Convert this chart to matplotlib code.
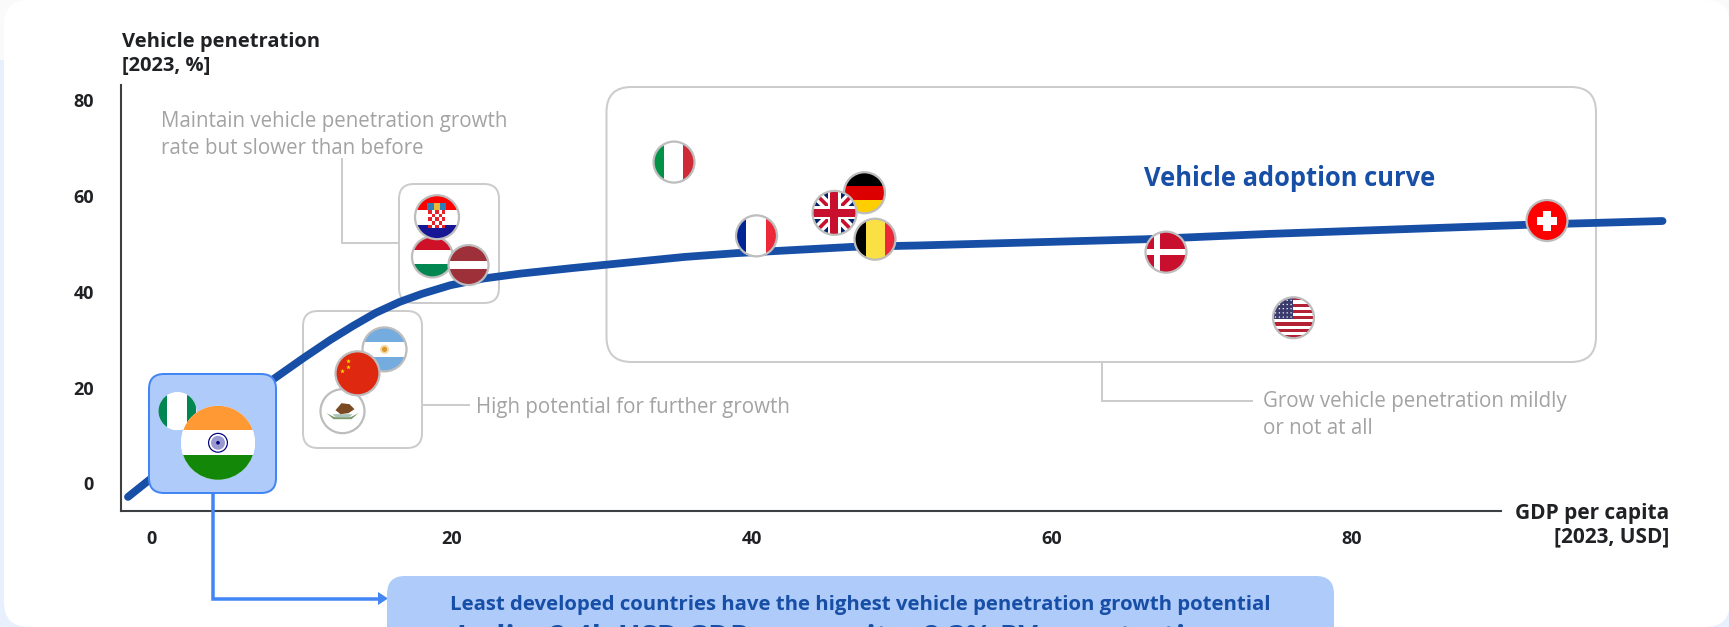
import matplotlib

matplotlib.use("Agg")
import matplotlib.pyplot as plt
import numpy as np
from matplotlib.patches import Circle, FancyBboxPatch, Polygon, Rectangle
from matplotlib.transforms import Affine2D

# adoption curve
curve_gdp = [-1.6, -0.2, 3.9, 8.1, 10.1, 11.9, 13.4, 14.9, 16.5, 18.0, 19.9, 22.1, 24.5, 28.1,
             35.5, 39.0, 46.7, 51.2, 66.3, 74.4, 91.6, 100.7]
curve_pen = [-2.8, 0.7, 11.2, 21.8, 26.2, 30.0, 32.9, 35.6, 37.9, 39.6, 41.4, 42.8, 43.8, 45.0,
             47.3, 48.1, 49.4, 49.7, 51.0, 52.1, 54.0, 54.8]

# countries, in drawing order
countries = ["NG", "IN", "MX", "AR", "CN", "HU", "HR", "LV", "IT", "FR", "DE", "GB",
             "BE", "DK", "US", "CH"]
gdp = [1.7, 4.4, 12.7, 15.5, 13.7, 18.7, 19.0, 21.1, 34.8, 40.3, 47.5, 45.5,
       48.2, 67.6, 76.1, 93.0]
penetration = [15.1, 8.5, 15.1, 28.0, 23.0, 47.3, 55.6, 45.6, 67.1, 51.7, 60.7, 56.5,
               51.0, 48.3, 34.6, 54.9]

x_ticks = [0, 20, 40, 60, 80]
y_ticks = [0, 20, 40, 60, 80]

W, H = 1729, 627
FONT = "Open Sans"
DARK = "#202124"
GREY_TEXT = "#A3A3A3"
GREY_LINE = "#CCCCCC"
BLUE = "#174EA6"
LIGHT_BLUE = "#AECBFA"
MID_BLUE = "#4285F4"

plt.rcParams["font.family"] = [FONT, "DejaVu Sans"]

fig = plt.figure(figsize=(W / 100, H / 100), dpi=100, facecolor="#E8F0FE")
ax = fig.add_axes([121.5 / W, (H - 510.5) / H, (W - 121.5) / W, (510.5 - 85) / H])
ax.patch.set_visible(False)
ax.set_xlim((121.5 - 152) / 15, (W - 152) / 15)
ax.set_ylim((483.5 - 510.5) / 4.79, (483.5 - 85) / 4.79)
ax.set_autoscale_on(False)

# pixel coordinates, origin at the top left corner of the figure
px = Affine2D().scale(1, -1).translate(0, H)


def add_round_box(x0, y0, x1, y1, radius, face, edge, lw=2, zorder=1):
    box = FancyBboxPatch(
        (x0, y0), x1 - x0, y1 - y0,
        boxstyle=f"round,pad=0,rounding_size={radius}",
        facecolor=face, edgecolor=edge, linewidth=lw * 0.72,
        transform=px, clip_on=False, zorder=zorder,
    )
    ax.add_patch(box)
    return box


def add_leader(xs, ys, color=GREY_LINE, lw=2, zorder=1):
    ax.plot(xs, ys, color=color, lw=lw * 0.72, transform=px, clip_on=False,
            zorder=zorder, solid_joinstyle="miter", solid_capstyle="butt")


def label(x, y, s, size, color=DARK, weight="normal", ha="left", va="center"):
    return ax.text(x, y, s, fontsize=size, color=color, fontweight=weight, ha=ha, va=va,
                   transform=px, clip_on=False, zorder=12)


# page and card background
ax.add_patch(Rectangle((0, 0), W, 60, facecolor="#FAFAFA", edgecolor="none",
                       transform=px, clip_on=False, zorder=0))
add_round_box(4, 0, W + 1, H, 25, "white", "none", lw=0, zorder=0.1)


def flag(code, cx, cy, r, ring=True, z=5):
    circle = Circle((cx, cy), r, facecolor="white", edgecolor="none", transform=px,
                    clip_on=False, zorder=z)
    ax.add_patch(circle)

    def add_clipped(p):
        ax.add_patch(p)
        p.set_clip_path(circle)
        return p

    def rect(x0, y0, w, h, color):
        add_clipped(Rectangle((cx + x0, cy + y0), w, h, facecolor=color, edgecolor="none",
                              transform=px, zorder=z + 0.01))

    def poly(points, color):
        add_clipped(Polygon([(cx + a, cy + b) for a, b in points], closed=True, facecolor=color,
                            edgecolor="none", transform=px, zorder=z + 0.01))

    def dot(a, b, size, color):
        add_clipped(Circle((cx + a, cy + b), size, facecolor=color, edgecolor="none",
                           transform=px, zorder=z + 0.01))

    def horizontal(top, mid, bottom, half):
        rect(-r, -r, 2 * r, r - half, top)
        rect(-r, -half, 2 * r, 2 * half, mid)
        rect(-r, half, 2 * r, r - half, bottom)

    def vertical(left, mid, right, half):
        rect(-r, -r, r - half, 2 * r, left)
        rect(-half, -r, 2 * half, 2 * r, mid)
        rect(half, -r, r - half, 2 * r, right)

    def star(a, b, size, color):
        angles = np.pi / 2 + np.arange(10) * np.pi / 5
        radii = np.where(np.arange(10) % 2 == 0, size, size * 0.4)
        poly(list(zip(a + radii * np.cos(angles), b - radii * np.sin(angles))), color)

    def diagonal(sign, w, color):
        poly([(-r - w, sign * (-r + w)), (-r + w, sign * (-r - w)),
              (r + w, sign * (r - w)), (r - w, sign * (r + w))], color)

    if code == "NG":
        vertical("#008751", "white", "#008751", 10)
    elif code == "IN":
        horizontal("#FF9933", "white", "#138808", 12.5)
        dot(0, 0, 10, "#000080")
        dot(0, 0, 8.8, "white")
        dot(0, 0, 7, "#9A9AD0")
        dot(0, 0, 1.8, "#000080")
    elif code == "MX":
        poly([(-16, 2), (-8, 6), (8, 6), (16, 2), (9, 8), (-9, 8)], "#7C9A6A")
        poly([(-10, 3), (10, 3), (7, 6), (-7, 6)], "#A9C4B8")
        poly([(-7, -1), (-1, -8), (7, -7), (12, -2), (6, 2), (-2, 3)], "#7A4A22")
    elif code == "AR":
        horizontal("#74ACDF", "white", "#74ACDF", 7.5)
        dot(0, 0, 4.5, "#F4D9A6")
        dot(0, 0, 2.6, "#D9962A")
    elif code == "CN":
        rect(-r, -r, 2 * r, 2 * r, "#DE2910")
        star(-9, -12, 2.4, "#FFDE00")
        star(-9, -6, 2.4, "#FFDE00")
        star(-15, -2, 2.4, "#FFDE00")
    elif code == "HU":
        horizontal("#CE1126", "white", "#008751", 7)
    elif code == "HR":
        horizontal("#FF0000", "white", "#171796", 7.5)
        rect(-8.5, -7, 17, 18, "#E8202A")
        for i in range(5):
            for j in range(5):
                if (i + j) % 2:
                    rect(-8.5 + i * 3.4, -7 + j * 3.6, 3.4, 3.6, "white")
        rect(-9.5, -14, 19, 7, "#2D7FB8")
        rect(-3, -14, 6, 7, "#E8B83A")
    elif code == "LV":
        horizontal("#9E3039", "white", "#9E3039", 4)
    elif code == "IT":
        vertical("#009246", "white", "#CE2B37", 9.5)
    elif code == "FR":
        vertical("#002395", "white", "#ED2939", 10)
    elif code == "DE":
        horizontal("#000000", "#DD0000", "#FFCE00", 7)
    elif code == "GB":
        rect(-r, -r, 2 * r, 2 * r, "#012169")
        diagonal(1, 3.6, "white")
        diagonal(-1, 3.6, "white")
        diagonal(1, 1.3, "#C8102E")
        diagonal(-1, 1.3, "#C8102E")
        rect(-r, -6.5, 2 * r, 13, "white")
        rect(-6.5, -r, 13, 2 * r, "white")
        rect(-r, -4, 2 * r, 8, "#C8102E")
        rect(-4, -r, 8, 2 * r, "#C8102E")
    elif code == "BE":
        vertical("#000000", "#FAE042", "#ED2939", 9.5)
    elif code == "DK":
        rect(-r, -r, 2 * r, 2 * r, "#C8102E")
        rect(-r, -3, 2 * r, 6, "white")
        rect(-12, -r, 6, 2 * r, "white")
    elif code == "US":
        for i in range(13):
            rect(-r, -r + i * 2 * r / 13, 2 * r, 2 * r / 13, "#B22234" if i % 2 == 0 else "white")
        rect(-r, -r, r, 22, "#3C3B6E")
        for i in range(5):
            for j in range(5):
                dot(-r + 2.5 + i * 3.9, -r + 3 + j * 4.2, 0.7, "white")
    elif code == "CH":
        rect(-r, -r, 2 * r, 2 * r, "#FF0000")
        rect(-10, -4, 20, 8, "white")
        rect(-4, -10, 8, 20, "white")

    if ring:
        ax.add_patch(Circle((cx, cy), r, facecolor="none", edgecolor="#BDBDBD", linewidth=1.6,
                            transform=px, clip_on=False, zorder=z + 0.02))


# callout boxes and leaders
add_round_box(303, 311, 422, 448, 15, "none", GREY_LINE)
add_round_box(399, 184, 499, 303, 15, "none", GREY_LINE)
add_round_box(606.5, 87, 1596, 362, 25, "none", GREY_LINE)
add_leader([342, 342, 399], [158, 243, 243])
add_leader([422, 470], [405, 405])
add_leader([1101.5, 1101.5, 1253], [362, 401, 401])

# curve goes above the grey boxes and under the highlighted one
ax.plot(curve_gdp, curve_pen, color=BLUE, lw=5.6, solid_capstyle="round", zorder=2)
add_round_box(149, 374, 276, 493, 15, LIGHT_BLUE, MID_BLUE, zorder=3)

radii = {"IN": 37, "NG": 19, "HU": 20.5, "LV": 20, "HR": 22, "GB": 22, "AR": 22, "CN": 22, "MX": 22}
for i, (code, gx, py) in enumerate(zip(countries, gdp, penetration)):
    dx, dy = ax.transData.transform((gx, py))
    flag(code, dx, H - dy, radii.get(code, 20.5), ring=code not in ("IN", "NG"), z=5 + i * 0.1)

# connector to the summary box
add_leader([212.5, 212.5, 380], [493, 598.5, 598.5], color=MID_BLUE, lw=3.5, zorder=3)
ax.add_patch(Polygon([(378, 592), (388, 598.5), (378, 605)], closed=True, facecolor=MID_BLUE,
                     edgecolor="none", transform=px, clip_on=False, zorder=3))

# summary box, running off the bottom edge
add_round_box(387, 576, 1334, 700, 18, LIGHT_BLUE, "none", lw=0, zorder=3)
label(860.5, 605, "Least developed countries have the highest vehicle penetration growth potential",
      14.65, BLUE, weight="bold", ha="center")
label(840, 638.5, "India: 2.4k USD GDP per capita, 8.3% PV penetration",
      21.4, BLUE, weight="bold", ha="center")

# annotations
label(161, 121, "Maintain vehicle penetration growth", 14.8, GREY_TEXT)
label(161, 148, "rate but slower than before", 14.8, GREY_TEXT)
label(476, 407, "High potential for further growth", 14.8, GREY_TEXT)
label(1263, 402, "Grow vehicle penetration mildly", 14.8, GREY_TEXT)
label(1263, 428, "or not at all", 14.8, GREY_TEXT)
label(1143.5, 178, "Vehicle adoption curve", 18.4, BLUE, weight="bold")

# axis titles
label(122, 42, "Vehicle penetration", 14.5, weight="bold")
label(122, 66, "[2023, %]", 14.5, weight="bold")
label(1669.5, 513, "GDP per capita", 15, weight="bold", ha="right")
label(1669.5, 537, "[2023, USD]", 15, weight="bold", ha="right")

# axes
for side in ("top", "right"):
    ax.spines[side].set_visible(False)
for side in ("left", "bottom"):
    ax.spines[side].set_color("#3C4043")
    ax.spines[side].set_linewidth(1.5)
    ax.spines[side].set_zorder(2)
ax.spines["bottom"].set_bounds(ax.get_xlim()[0], (1500.5 - 152) / 15)
ax.set_xticks(x_ticks)
ax.set_yticks(y_ticks)
ax.tick_params(axis="x", length=0, pad=14, labelsize=13, labelcolor=DARK)
ax.tick_params(axis="y", length=0, pad=20, labelsize=13, labelcolor=DARK)
for tick in ax.get_xticklabels() + ax.get_yticklabels():
    tick.set_fontweight("bold")

fig.savefig("out.png", dpi=100, facecolor=fig.get_facecolor())
